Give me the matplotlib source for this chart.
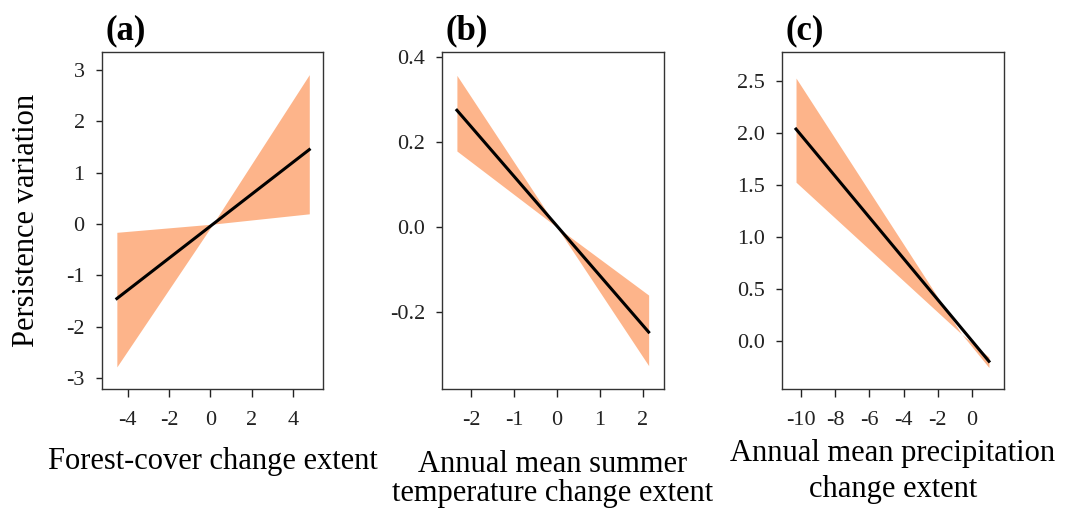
import numpy as np
import matplotlib.pyplot as plt

# panel (a): forest cover
a_x = [-4.53, 0.12, 4.79]
a_fit = [-1.45, 0.0, 1.45]
a_lo = [-2.78, 0.0, 0.2]
a_hi = [-0.16, 0.0, 2.91]

# panel (b): summer temperature
b_x = [-2.33, 0.0, 2.14]
b_fit = [0.275, 0.0, -0.247]
b_lo = [0.179, 0.0, -0.326]
b_hi = [0.357, 0.0, -0.16]

# panel (c): precipitation
c_x = [-10.29, -0.6, 0.99]
c_fit = [2.04, 0.07, -0.19]
c_lo = [1.53, 0.07, -0.25]
c_hi = [2.53, 0.07, -0.15]

panels = [
    ("(a)", a_x, a_fit, a_lo, a_hi, [-4, -2, 0, 2, 4], [-3, -2, -1, 0, 1, 2, 3],
     (-5.25, 5.47), (-3.21, 3.35), "Forest-cover change extent", "%d", 12, 1.0),
    ("(b)", b_x, b_fit, b_lo, b_hi, [-2, -1, 0, 1, 2], [-0.2, 0.0, 0.2, 0.4],
     (-2.67, 2.49), (-0.381, 0.412), "Annual mean summer\ntemperature change extent", "%.1f", 14, 1.03),
    ("(c)", c_x, c_fit, c_lo, c_hi, [-10, -8, -6, -4, -2, 0], [0.0, 0.5, 1.0, 1.5, 2.0, 2.5],
     (-11.09, 1.85), (-0.456, 2.78), "Annual mean precipitation\nchange extent", "%.1f", 6, 1.36),
]

plt.rcParams["font.family"] = ["Liberation Serif", "DejaVu Serif"]

fig = plt.figure(figsize=(10.77, 5.09), dpi=100)
lefts = [0.0947, 0.4107, 0.7264]

for left, (tag, x, fit, lo, hi, xt, yt, xl, yl, xlab, yfmt, lpad, lsp) in zip(lefts, panels):
    ax = fig.add_axes([left, 0.2358, 0.2055, 0.662])
    ax.fill_between(x, lo, hi, color="#fdb48a", lw=0)
    ax.plot([x[0], x[-1]], [fit[0], fit[-1]], color="black", lw=2.2)
    ax.set_xlim(*xl)
    ax.set_ylim(*yl)
    ax.set_xticks(xt)
    ax.set_yticks(yt)
    ax.set_xticklabels(["%d" % v for v in xt])
    ax.set_yticklabels([yfmt % v for v in yt])
    ax.tick_params(direction="out", width=1, labelsize=16, colors="#222222")
    ax.tick_params(axis="x", length=6, pad=10)
    ax.tick_params(axis="y", length=4.5, pad=8)
    for s in ax.spines.values():
        s.set_color("#333333")
        s.set_linewidth(1)
    ax.set_xlabel(xlab, fontsize=22, labelpad=lpad, linespacing=lsp)
    ax.text(0.015, 1.015, tag, transform=ax.transAxes, fontsize=25,
            fontweight="bold", ha="left", va="bottom")
    if tag == "(a)":
        ax.set_ylabel("Persistence variation", fontsize=22, labelpad=18)

fig.savefig("out.png", dpi=100)
